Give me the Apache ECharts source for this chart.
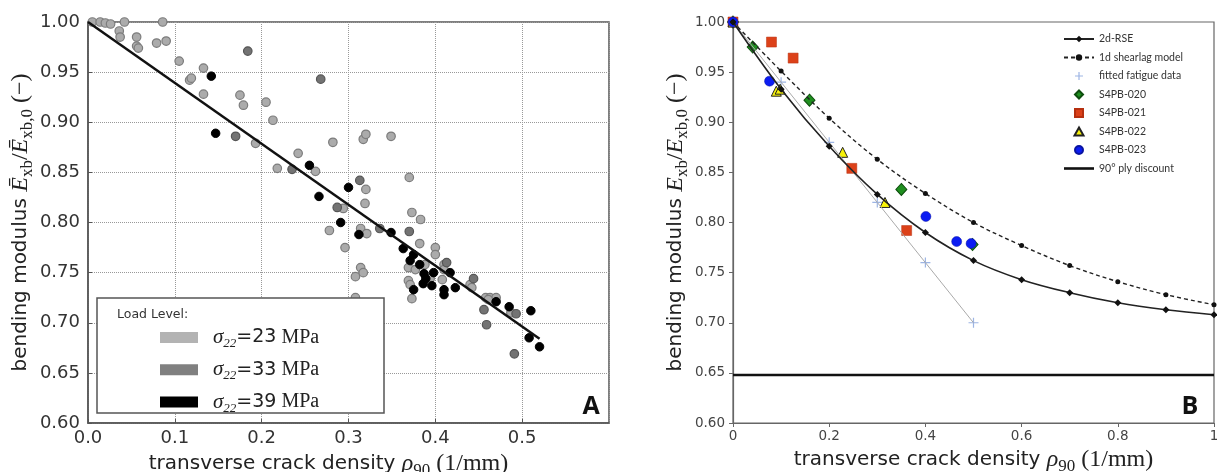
<!DOCTYPE html>
<html><head><meta charset="utf-8">
<script src="https://cdn.jsdelivr.net/npm/echarts@6/dist/echarts.min.js"></script>
<style>html,body{margin:0;padding:0;background:#fff}#c{width:1217px;height:472px}</style>
</head><body><div id="c"></div><script>
// ---------- Panel A data ----------
const loadLevels = ['σ22=23 MPa', 'σ22=33 MPa', 'σ22=39 MPa'];
const load23 = [[0.005,1.0],[0.014,1.0],[0.02,0.999],[0.026,0.998],[0.042,1.0],[0.036,0.991],[0.037,0.985],[0.056,0.985],
  [0.056,0.976],[0.058,0.974],[0.079,0.979],[0.090,0.981],[0.086,1.0],[0.105,0.961],[0.117,0.942],[0.119,0.944],
  [0.133,0.954],[0.133,0.928],[0.175,0.927],[0.179,0.917],[0.193,0.879],[0.205,0.920],[0.213,0.902],[0.218,0.854],
  [0.242,0.869],[0.282,0.880],[0.317,0.883],[0.320,0.888],[0.349,0.886],[0.262,0.851],[0.320,0.833],[0.319,0.819],
  [0.370,0.845],[0.294,0.814],[0.278,0.792],[0.314,0.794],[0.321,0.789],[0.373,0.810],[0.383,0.803],[0.296,0.775],
  [0.314,0.755],[0.317,0.750],[0.308,0.746],[0.308,0.725],[0.382,0.779],[0.400,0.775],[0.400,0.768],[0.388,0.758],
  [0.369,0.755],[0.377,0.753],[0.410,0.758],[0.410,0.753],[0.394,0.744],[0.369,0.742],[0.371,0.738],[0.408,0.743],
  [0.373,0.724],[0.440,0.738],[0.442,0.735],[0.458,0.725],[0.463,0.725],[0.470,0.725],[0.461,0.723],[0.487,0.710]];
const load33 = [[0.184,0.971],[0.170,0.886],[0.235,0.853],[0.268,0.943],[0.313,0.842],[0.287,0.815],[0.336,0.794],
  [0.370,0.791],[0.413,0.760],[0.444,0.744],[0.456,0.713],[0.459,0.698],[0.493,0.709],[0.491,0.669]];
const load39 = [[0.142,0.946],[0.147,0.889],[0.255,0.857],[0.266,0.826],[0.300,0.835],[0.291,0.800],[0.312,0.788],
  [0.349,0.790],[0.363,0.774],[0.375,0.768],[0.371,0.762],[0.382,0.758],[0.387,0.749],[0.398,0.750],[0.417,0.750],
  [0.389,0.744],[0.386,0.739],[0.396,0.737],[0.410,0.733],[0.410,0.728],[0.375,0.733],[0.423,0.735],[0.470,0.721],
  [0.485,0.716],[0.510,0.712],[0.508,0.685],[0.520,0.676]];
const fitLineA = [[0,1.0],[0.52,0.684]];

// ---------- Panel B data ----------
const rhoGrid = [0,0.1,0.2,0.3,0.4,0.5,0.6,0.7,0.8,0.9,1.0];
const rse2d = [1.0,0.933,0.876,0.828,0.790,0.762,0.743,0.730,0.720,0.713,0.708];
const shearlag1d = [1.0,0.951,0.904,0.863,0.829,0.800,0.777,0.757,0.741,0.728,0.718];
const fittedX = [0,0.1,0.2,0.3,0.4,0.5];
const fittedY = [1.0,0.94,0.88,0.82,0.76,0.70];
const s4pb020 = [[0,1.0],[0.041,0.975],[0.159,0.922],[0.350,0.833],[0.498,0.778]];
const s4pb021 = [[0,1.0],[0.080,0.980],[0.125,0.964],[0.247,0.854],[0.361,0.792]];
const s4pb022 = [[0,1.0],[0.090,0.931],[0.098,0.933],[0.228,0.870],[0.316,0.820]];
const s4pb023 = [[0,1.0],[0.076,0.941],[0.401,0.806],[0.465,0.781],[0.495,0.779]];
const plyDiscount = 0.648;
const legendB = ['2d-RSE','1d shearlag model','fitted fatigue data','S4PB-020','S4PB-021','S4PB-022','S4PB-023','90° ply discount'];

// ---------- chart ----------
const chart = echarts.init(document.getElementById('c'), null, {renderer:'canvas'});
const pairs = (xs, ys) => xs.map((x,i)=>[x, ys[i]]);
const sans = 'DejaVu Sans';
const serif = 'Liberation Serif';
const mathRich = (fs) => ({
  t:{fontFamily:sans, fontSize:fs, color:'#222'},
  mi:{fontFamily:serif, fontStyle:'italic', fontSize:fs+4, color:'#222'},
  mr:{fontFamily:serif, fontSize:fs+4, color:'#222'},
  sub:{fontFamily:serif, fontSize:fs-3, color:'#222', padding:[13,0,0,0]}
});
const xName = '{t|transverse crack density }{mi|ρ}{sub|90}{mr| (1/mm)}';
// legend icons for panel B markers (box 30x8, marker centred)
const ic = {
  plus:'path://M0,0M30,8M14.4,0h1.2v3.4h3.4v1.2h-3.4v3.4h-1.2v-3.4h-3.4v-1.2h3.4z',
  diamond:'path://M0,0M30,8M15,0L19,4L15,8L11,4Z',
  square:'path://M0,0M30,8M11,0h8v8h-8z',
  triangle:'path://M0,0M30,8M15,0L19.5,8L10.5,8Z',
  circle:'path://M0,0M30,8M11,4A4,4 0 1,1 19,4A4,4 0 1,1 11,4Z',
  thickLine:'path://M0,0M30,8M0,2.7H30V5.3H0Z'
};

const option = {
  animation:false,
  backgroundColor:'#fff',
  grid:[
    {left:88, top:22, width:521, height:401, outerBoundsMode:'none', containLabel:false,
     show:true, borderColor:'#555', borderWidth:1.5, backgroundColor:'transparent'},
    {left:733, top:22, width:481, height:401, outerBoundsMode:'none', containLabel:false,
     show:true, borderColor:'#666', borderWidth:1.2, backgroundColor:'transparent'}
  ],
  xAxis:[
    {gridIndex:0, type:'value', min:0, max:0.6, interval:0.1,
     axisLine:{show:true, onZero:false, lineStyle:{color:'#555', width:1.5}},
     axisTick:{show:true, inside:true, length:4, lineStyle:{color:'#555'}},
     axisLabel:{showMaxLabel:false, fontFamily:sans, fontSize:18, color:'#333', margin:6, formatter:v=>v.toFixed(1)},
     splitLine:{show:true, lineStyle:{type:'dotted', color:'#999', width:1}},
     name:xName, nameLocation:'middle', nameGap:19,
     nameTextStyle:{rich:mathRich(20), padding:[0,40,0,0]}},
    {gridIndex:1, type:'value', min:0, max:1, interval:0.2,
     axisLine:{show:true, onZero:false, lineStyle:{color:'#666', width:1.2}},
     axisTick:{show:true, inside:false, length:4, lineStyle:{color:'#666'}},
     axisLabel:{fontFamily:sans, fontSize:13.5, color:'#444', margin:6,
       formatter:v=> (v===0?'0':(Math.abs(v-1)<1e-9?'1':v.toFixed(1)))},
     splitLine:{show:false},
     name:xName, nameLocation:'middle', nameGap:19,
     nameTextStyle:{rich:mathRich(20)}}
  ],
  yAxis:[
    {gridIndex:0, type:'value', min:0.6, max:1.0, interval:0.05,
     axisLine:{show:true, onZero:false, lineStyle:{color:'#555', width:1.5}},
     axisTick:{show:true, inside:true, length:4, lineStyle:{color:'#555'}},
     axisLabel:{fontFamily:sans, fontSize:18, color:'#333', margin:8, formatter:v=>v.toFixed(2)},
     splitLine:{show:true, lineStyle:{type:'dotted', color:'#999', width:1}},
     name:'{t|bending modulus }{mi|Ē}{sub|xb}{mr|/}{mi|Ē}{sub|xb,0}{mr| (−)}',
     nameLocation:'middle', nameGap:44,
     nameTextStyle:{rich:mathRich(20)}},
    {gridIndex:1, type:'value', min:0.6, max:1.0, interval:0.05,
     axisLine:{show:true, onZero:false, lineStyle:{color:'#666', width:1.2}},
     axisTick:{show:true, inside:false, length:4, lineStyle:{color:'#666'}},
     axisLabel:{fontFamily:sans, fontSize:13.5, color:'#444', margin:8, formatter:v=>v.toFixed(2)},
     splitLine:{show:false},
     name:'{t|bending modulus }{mi|E}{sub|xb}{mr|/}{mi|E}{sub|xb,0}{mr| (−)}',
     nameLocation:'middle', nameGap:38,
     nameTextStyle:{rich:mathRich(20)}}
  ],
  legend:[
    {left:160, top:327, orient:'vertical', padding:0, itemGap:9.3, itemWidth:38, itemHeight:11, icon:'rect',
     data:[
       {name:loadLevels[0], itemStyle:{color:'#b3b3b3', borderWidth:0, opacity:1}},
       {name:loadLevels[1], itemStyle:{color:'#808080', borderWidth:0, opacity:1}},
       {name:loadLevels[2], itemStyle:{color:'#000', borderWidth:0, opacity:1}}],
     formatter:n=>{const v=n.split('=')[1].split(' ')[0]; return '{s|σ}{sub|22}{n|='+v+'}{u| MPa}';},
     textStyle:{padding:[0,0,0,10], rich:{
       s:{fontFamily:serif, fontStyle:'italic', fontSize:21, color:'#222', lineHeight:20},
       sub:{fontFamily:serif, fontStyle:'italic', fontSize:13, color:'#222', padding:[12,0,0,0]},
       n:{fontFamily:sans, fontSize:19, color:'#222', lineHeight:20},
       u:{fontFamily:serif, fontSize:20, color:'#222', lineHeight:20}}},
     z:10},
    {left:1063, top:33, orient:'vertical', padding:0, itemGap:6.5, itemWidth:30, itemHeight:8,
     data:[
       {name:legendB[0]}, {name:legendB[1]},
       {name:legendB[2], icon:ic.plus},
       {name:legendB[3], icon:ic.diamond},
       {name:legendB[4], icon:ic.square},
       {name:legendB[5], icon:ic.triangle},
       {name:legendB[6], icon:ic.circle},
       {name:legendB[7], icon:ic.thickLine, itemStyle:{color:'#111', borderWidth:0}}],
     textStyle:{fontFamily:'Lato', fontSize:10.5, color:'#333', lineHeight:12}}
  ],
  graphic:[
    {type:'rect', z:3, shape:{x:97, y:298, width:287, height:115},
     style:{fill:'#fff', stroke:'#555', lineWidth:1.5}},
    {type:'text', z:5, x:117, y:315, style:{text:'Load Level:', fontFamily:sans, fontSize:12.5, fill:'#333', verticalAlign:'middle'}},
    {type:'text', z:5, x:591, y:407, style:{text:'A', fontFamily:'Open Sans', fontWeight:'bold', fontSize:25, fill:'#111', align:'center', verticalAlign:'middle'}},
    {type:'text', z:5, x:1190, y:407, style:{text:'B', fontFamily:'Open Sans', fontWeight:'bold', fontSize:25, fill:'#111', align:'center', verticalAlign:'middle'}}
  ],
  series:[
    {name:loadLevels[0], type:'scatter', xAxisIndex:0, yAxisIndex:0, data:load23, symbolSize:8.5,
     itemStyle:{color:'#ababab', borderColor:'#7c7c7c', borderWidth:1.2, opacity:1}},
    {name:loadLevels[1], type:'scatter', xAxisIndex:0, yAxisIndex:0, data:load33, symbolSize:8.5,
     itemStyle:{color:'#737373', borderColor:'#555', borderWidth:1.2, opacity:1}},
    {name:loadLevels[2], type:'scatter', xAxisIndex:0, yAxisIndex:0, data:load39, symbolSize:8.5,
     itemStyle:{color:'#000', borderColor:'#000', borderWidth:1, opacity:1}},
    {name:'fitA', type:'line', xAxisIndex:0, yAxisIndex:0, data:fitLineA, showSymbol:false, symbol:'none',
     lineStyle:{color:'#111', width:2.5}, z:3},

    {name:'fittedLine', type:'line', xAxisIndex:1, yAxisIndex:1, data:pairs(fittedX,fittedY), symbol:'none',
     lineStyle:{color:'#aaa', width:1}},
    {name:'2d-RSE', type:'line', xAxisIndex:1, yAxisIndex:1, data:pairs(rhoGrid,rse2d), smooth:0.35,
     symbol:'diamond', symbolSize:7, itemStyle:{color:'#111'}, lineStyle:{color:'#222', width:1.6}},
    {name:'1d shearlag model', type:'line', xAxisIndex:1, yAxisIndex:1, data:pairs(rhoGrid,shearlag1d), smooth:0.35,
     symbol:'circle', symbolSize:5, itemStyle:{color:'#111'}, lineStyle:{color:'#222', width:1.4, type:[4,3]}},
    {name:'fitted fatigue data', type:'scatter', xAxisIndex:1, yAxisIndex:1, data:pairs(fittedX,fittedY),
     symbol:'path://M4.4,0H5.6V4.4H10V5.6H5.6V10H4.4V5.6H0V4.4H4.4Z', symbolSize:10, itemStyle:{color:'#9db5e4', opacity:1}},
    {name:'S4PB-020', type:'scatter', xAxisIndex:1, yAxisIndex:1, data:s4pb020, symbol:'diamond', symbolSize:[11,12],
     itemStyle:{color:'#1f8f1f', borderColor:'#0d4d0d', borderWidth:1, opacity:1}},
    {name:'S4PB-021', type:'scatter', xAxisIndex:1, yAxisIndex:1, data:s4pb021, symbol:'rect', symbolSize:10,
     itemStyle:{color:'#dc4119', borderColor:'#b63010', borderWidth:0.5, opacity:1}},
    {name:'S4PB-022', type:'scatter', xAxisIndex:1, yAxisIndex:1, data:s4pb022, symbol:'triangle', symbolSize:10,
     itemStyle:{color:'#f7f20a', borderColor:'#222', borderWidth:1, opacity:1}},
    {name:'S4PB-023', type:'scatter', xAxisIndex:1, yAxisIndex:1, data:s4pb023, symbol:'circle', symbolSize:10,
     itemStyle:{color:'#0b1cf2', borderColor:'#0a14a0', borderWidth:0.5, opacity:1}},
    {name:'90° ply discount', type:'line', xAxisIndex:1, yAxisIndex:1, data:[[0,plyDiscount],[1,plyDiscount]],
     symbol:'none', itemStyle:{color:'#111'}, lineStyle:{color:'#111', width:2.5}}
  ]
};
chart.setOption(option);
</script></body></html>
